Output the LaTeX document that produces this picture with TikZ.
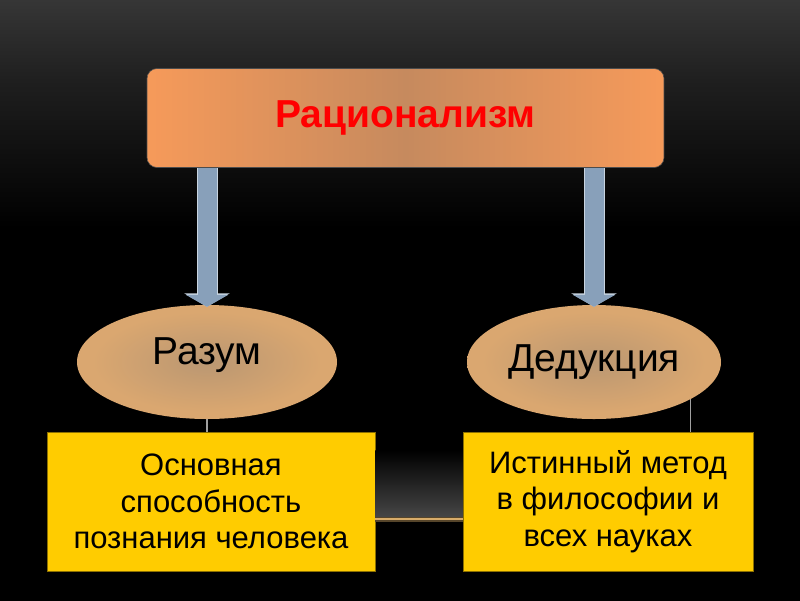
\documentclass[tikz,border=0pt]{standalone}
\usepackage{fontspec}
\setmainfont{Liberation Sans}
\usetikzlibrary{shapes.geometric, arrows.meta, positioning, backgrounds, calc}
\definecolor{bgtop}{RGB}{54,54,54}
\definecolor{bgmid}{RGB}{30,30,30}
\definecolor{titleedge}{RGB}{246,154,90}
\definecolor{titlemid}{RGB}{198,138,94}
\definecolor{titlered}{RGB}{255,0,0}
\definecolor{ovalmid}{RGB}{186,151,114}
\definecolor{ovaledge}{RGB}{218,167,112}
\definecolor{arrowfill}{RGB}{136,160,186}
\definecolor{arrowedge}{RGB}{200,212,224}
\definecolor{boxyellow}{RGB}{255,204,0}
\definecolor{linkgrey}{RGB}{160,160,160}
\definecolor{linktan}{RGB}{216,172,106}
\definecolor{reflgrey}{RGB}{72,72,72}
\pgfdeclareverticalshading{bgshade}{100bp}{color(0bp)=(black); color(56bp)=(black); color(68bp)=(bgmid); color(75bp)=(bgtop); color(100bp)=(bgtop)}
\pgfdeclarehorizontalshading{titleshade}{100bp}{color(0bp)=(titleedge); color(25bp)=(titleedge); color(50bp)=(titlemid); color(75bp)=(titleedge); color(100bp)=(titleedge)}
\pgfdeclareradialshading{ovalshade}{\pgfpoint{0bp}{0bp}}{color(0bp)=(ovalmid); color(22bp)=(ovaledge); color(50bp)=(ovaledge)}

\begin{document}
\begin{tikzpicture}[
    x=1pt, y=-1pt,
    title/.style={rectangle, rounded corners=10pt, shading=titleshade, draw=black!70, line width=0.6pt, minimum width=517pt, minimum height=99pt, font=\fontsize{39}{44}\selectfont\bfseries, text=titlered},
    oval/.style={ellipse, shading=ovalshade, inner sep=0pt, minimum height=114pt, font=\fontsize{39}{44}\selectfont},
    infobox/.style={rectangle, fill=boxyellow, draw=boxyellow!55!black, line width=0.6pt, minimum height=139pt, align=center, font=\fontsize{31}{36.5}\selectfont},
    blockarrow/.style={draw=arrowfill, line width=19pt, -{Triangle[width=42pt,length=12pt]}, shorten >=-2pt,
        preaction={draw=arrowedge, line width=21pt, -{Triangle[width=45pt,length=13.5pt]}, shorten >=-2pt}},
    link/.style={draw=linkgrey, line width=1.2pt},
    glowline/.style={draw=linktan, line width=2.2pt, preaction={draw=linktan!40!black, line width=5pt}}
]
    \useasboundingbox (0,0) rectangle (800,600);

    \node[title] (rat) at (405.5,118) {Рационализм};
    \node[oval, minimum width=260pt, text depth=22pt] (razum) at (207,362) {Разум};
    \node[oval, minimum width=254pt] (dedukt) at (594,362) {Дедукция};
    \node[infobox, minimum width=328pt] (osnova) at (211,501.5) {Основная\\способность\\познания человека};
    \node[infobox, minimum width=290pt] (metod) at (608,501.5) {Истинный метод\\в философии и\\всех науках};

    \coordinate (jointy) at (0,519);
    \coordinate (refly) at (0,450);
    \coordinate (joint) at (dedukt.-21 |- jointy);

    \begin{scope}[on background layer]
        \shade[shading=bgshade] (0,0) rectangle (800,600);
        \draw[link] (razum.south) |- (joint) -- (dedukt.-21);
    \end{scope}

    \shade[top color=black, bottom color=reflgrey] (osnova.east |- refly) rectangle (metod.west |- joint);
    \draw[glowline] (osnova.east |- joint) -- (metod.west |- joint);

    \draw[blockarrow] (rat.south -| razum.north) -- (razum.north);
    \draw[blockarrow] (rat.south -| dedukt.north) -- (dedukt.north);
\end{tikzpicture}
\end{document}
